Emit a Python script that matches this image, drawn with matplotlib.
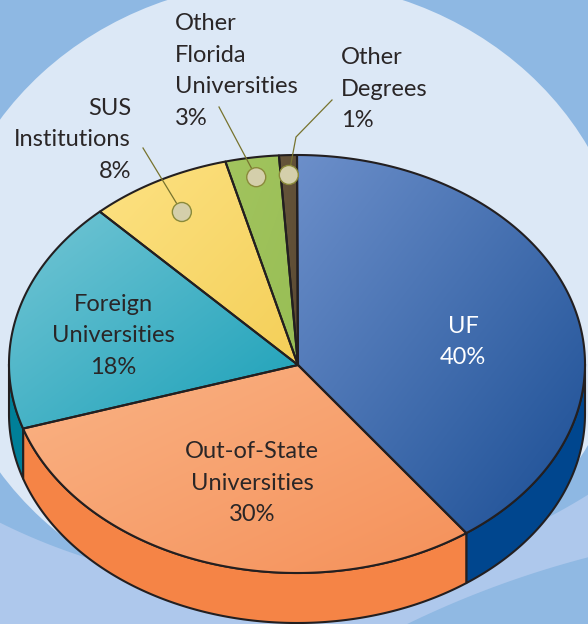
import numpy as np
import matplotlib
matplotlib.use("Agg")
import matplotlib.pyplot as plt
from matplotlib.patches import Polygon, Ellipse, Circle
from matplotlib.colors import to_rgb

# ---------------- data ----------------
categories = ["UF", "Out-of-State Universities", "Foreign Universities",
              "SUS Institutions", "Other Florida Universities", "Other Degrees"]
values = [40, 30, 18, 8, 3, 1]
label_text = ["UF\n40%", "Out-of-State\nUniversities\n30%", "Foreign\nUniversities\n18%",
              "SUS\nInstitutions\n8%", "Other\nFlorida\nUniversities\n3%", "Other\nDegrees\n1%"]

# ---------------- style ----------------
top_light = ["#6C8FCA", "#FAB385", "#74C6D5", "#FDE283", "#A2C45E", "#66553B"]
top_dark = ["#1B4E94", "#F5915A", "#1AA0B8", "#F4CF58", "#98BE55", "#5C4B33"]
side_cols = ["#00468E", "#F58446", "#007F98", "#E8C24A", "#86AD45", "#4E3F2A"]
edge = "#231F20"
W, H = 588, 624
CX, CY, RX, RY, DEPTH = 297, 364, 288, 209, 50

plt.rcParams["font.family"] = ["Lato", "DejaVu Sans"]
fig = plt.figure(figsize=(W / 100, H / 100), dpi=100)
ax = fig.add_axes([0, 0, 1, 1])
ax.set_xlim(0, W)
ax.set_ylim(H, 0)
ax.axis("off")

# ---------------- background ----------------
ax.add_patch(Polygon([(0, 0), (W, 0), (W, H), (0, H)], closed=True,
                     facecolor="#8EB8E3", edgecolor="none", zorder=0))
ax.add_patch(Ellipse((285, 296), 2 * 344, 2 * 315, facecolor="#DCE8F6",
                     edgecolor="none", zorder=0.5))
xs = np.linspace(-5, W + 5, 300)
c2x, c2y, r2 = 269, -17, 603
upper = c2y + np.sqrt(np.clip(r2 ** 2 - (xs - c2x) ** 2, 0, None))
band = np.vstack([np.column_stack([xs, upper]), [[W + 5, H + 50], [-5, H + 50]]])
ax.add_patch(Polygon(band, closed=True, facecolor="#AEC8EC", edgecolor="none", zorder=0.6))
c3x, c3y, r3 = 833, 1500, 974
lower = c3y - np.sqrt(np.clip(r3 ** 2 - (xs - c3x) ** 2, 0, None))
dark = np.vstack([np.column_stack([xs, lower]), [[W + 5, H + 50], [-5, H + 50]]])
ax.add_patch(Polygon(dark, closed=True, facecolor="#90B9E3", edgecolor="none", zorder=0.7))


def pt(theta):
    th = np.radians(theta)
    return CX + RX * np.sin(th), CY - RY * np.cos(th)


fr = np.array(values, dtype=float) / sum(values)
ends = np.cumsum(fr) * 360
starts = ends - fr * 360

# ---------------- side walls ----------------
for i in range(len(values)):
    lo, hi = max(starts[i], 90), min(ends[i], 270)
    if lo >= hi:
        continue
    ts = np.linspace(lo, hi, 200)
    x, y = pt(ts)
    poly = np.vstack([np.column_stack([x, y]), np.column_stack([x[::-1], y[::-1] + DEPTH])])
    ax.add_patch(Polygon(poly, closed=True, facecolor=side_cols[i], edgecolor=edge,
                         lw=1.5, joinstyle="round", zorder=2))

# ---------------- top faces with gradient ----------------
for i in range(len(values)):
    ts = np.linspace(starts[i], ends[i], max(int(fr[i] * 720), 8))
    x, y = pt(ts)
    poly = np.vstack([[CX + 1, CY + 1], np.column_stack([x, y])])
    x0, x1 = poly[:, 0].min(), poly[:, 0].max()
    y0, y1 = poly[:, 1].min(), poly[:, 1].max()
    gx, gy = np.meshgrid(np.linspace(0, 1, 120), np.linspace(0, 1, 120))
    g = (gx + gy) / 2
    c0, c1 = np.array(to_rgb(top_light[i])), np.array(to_rgb(top_dark[i]))
    img = c0[None, None, :] * (1 - g[..., None]) + c1[None, None, :] * g[..., None]
    patch = Polygon(poly, closed=True, facecolor="none", edgecolor="none", zorder=3)
    ax.add_patch(patch)
    im = ax.imshow(img, extent=(x0, x1, y1, y0), origin="upper", zorder=3,
                   interpolation="bilinear", aspect="auto")
    im.set_clip_path(patch)
    ax.add_patch(Polygon(poly, closed=True, facecolor="none", edgecolor=edge,
                         lw=1.5, joinstyle="round", zorder=4))

ax.set_xlim(0, W)
ax.set_ylim(H, 0)

# ---------------- labels ----------------
tc = "#2A2627"
fs = 17
ls = 1.62
ax.text(463, 342, label_text[0], color="white", fontsize=fs, ha="center", va="center",
        linespacing=ls, zorder=6)
ax.text(252, 483, label_text[1], color=tc, fontsize=fs, ha="center", va="center",
        linespacing=ls, zorder=6)
ax.text(113, 336, label_text[2], color=tc, fontsize=fs, ha="center", va="center",
        linespacing=ls, zorder=6)
ax.text(131, 140, label_text[3], color=tc, fontsize=fs, ha="right", va="center",
        linespacing=ls, multialignment="right", zorder=6)
ax.text(175, 71, label_text[4], color=tc, fontsize=fs, ha="left", va="center",
        linespacing=ls, zorder=6)
ax.text(341, 89, label_text[5], color=tc, fontsize=fs, ha="left", va="center",
        linespacing=ls, zorder=6)

# leader lines + markers (anchored on slice mid-angles)
lead = "#77732E"
mids = (starts + ends) / 2
anchors = {3: 0.83, 4: 0.905, 5: 0.905}
paths = {3: [(143, 148)], 4: [(219, 107)], 5: [(332, 100), (296, 137)]}
for i, r in anchors.items():
    th = np.radians(mids[i])
    mx, my = CX + r * RX * np.sin(th), CY - r * RY * np.cos(th)
    pts = paths[i] + [(mx, my)]
    ax.plot([p[0] for p in pts], [p[1] for p in pts], color=lead, lw=0.9, zorder=7)
    ax.add_patch(Circle((mx, my), 9.5, facecolor="#D4CFAB", edgecolor="#8A8A3A",
                        lw=1.0, zorder=8))

fig.savefig("out.png", dpi=100)
